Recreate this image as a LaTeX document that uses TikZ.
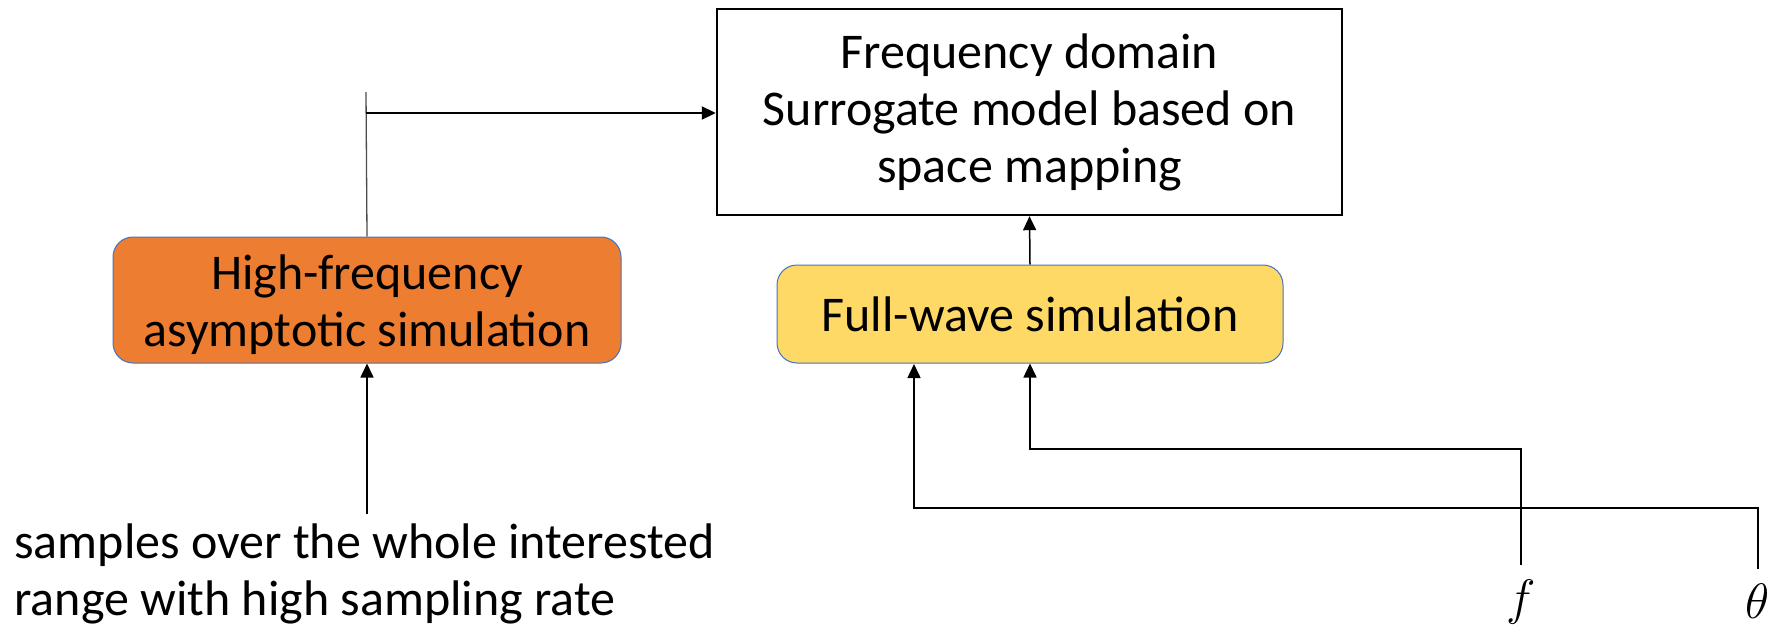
\documentclass[tikz,border=0pt]{standalone}
\usepackage{fontspec}
\setmainfont{Carlito}
\usetikzlibrary{arrows.meta}
\definecolor{orangefill}{HTML}{ED7D31}
\definecolor{goldfill}{HTML}{FFD966}
\definecolor{boxedge}{HTML}{4472C4}
\tikzset{
  txt/.style={font=\fontsize{25pt}{28.5pt}\selectfont},
  modelbox/.style={txt, draw=black, line width=1.2pt, align=center, inner sep=0pt,
    minimum width=312.5pt, minimum height=103pt},
  simbox/.style={txt, draw=boxedge, line width=0.5pt, rounded corners=10pt, align=center,
    inner sep=0pt, minimum width=254pt},
  conn/.style={line width=0.75pt, black},
  arr/.style={conn, -{Triangle[length=7pt,width=6.5pt]}},
  var/.style={font=\fontsize{25pt}{28pt}\selectfont, inner sep=0pt, anchor=base}
}
\begin{document}
\begin{tikzpicture}[x=0.5pt,y=-0.5pt]
\useasboundingbox (0,0) rectangle (1783,626);
\node[modelbox] (model) at (1029.5,112) {Frequency domain\\Surrogate model based on\\space mapping};
\node[simbox, fill=orangefill, minimum height=63pt] (hf) at (367,300) {\rule{0pt}{22pt}High-frequency\\asymptotic simulation};
\node[simbox, fill=goldfill, minimum width=253pt, minimum height=49pt] (fw) at (1030,314) {Full-wave simulation};
\node[txt, align=left, anchor=base west, inner sep=0pt] (samp) at (14,615) {samples over the whole interested\\range with high sampling rate};
\node[var] (f) at (1521,614) {$f$};
\node[var] (th) at (1758,618) {$\theta$};
\coordinate (j) at (366,113);
\coordinate (jtop) at (366,92);
\draw[line width=0.65pt, black!70] (hf.north) -- (jtop);
\draw[arr, line width=1pt] (j) -- (model.west |- j);
\draw[arr] (fw.north) -- (model.south);
\draw[arr] (hf.south |- 0,514) -- (hf.south);
\draw[arr, shorten <=7pt] (f.north) |- (1030,449) -- (fw.south);
\draw[arr, shorten <=7pt] (th.north) |- (914,508) -- (914,364);
\end{tikzpicture}
\end{document}
